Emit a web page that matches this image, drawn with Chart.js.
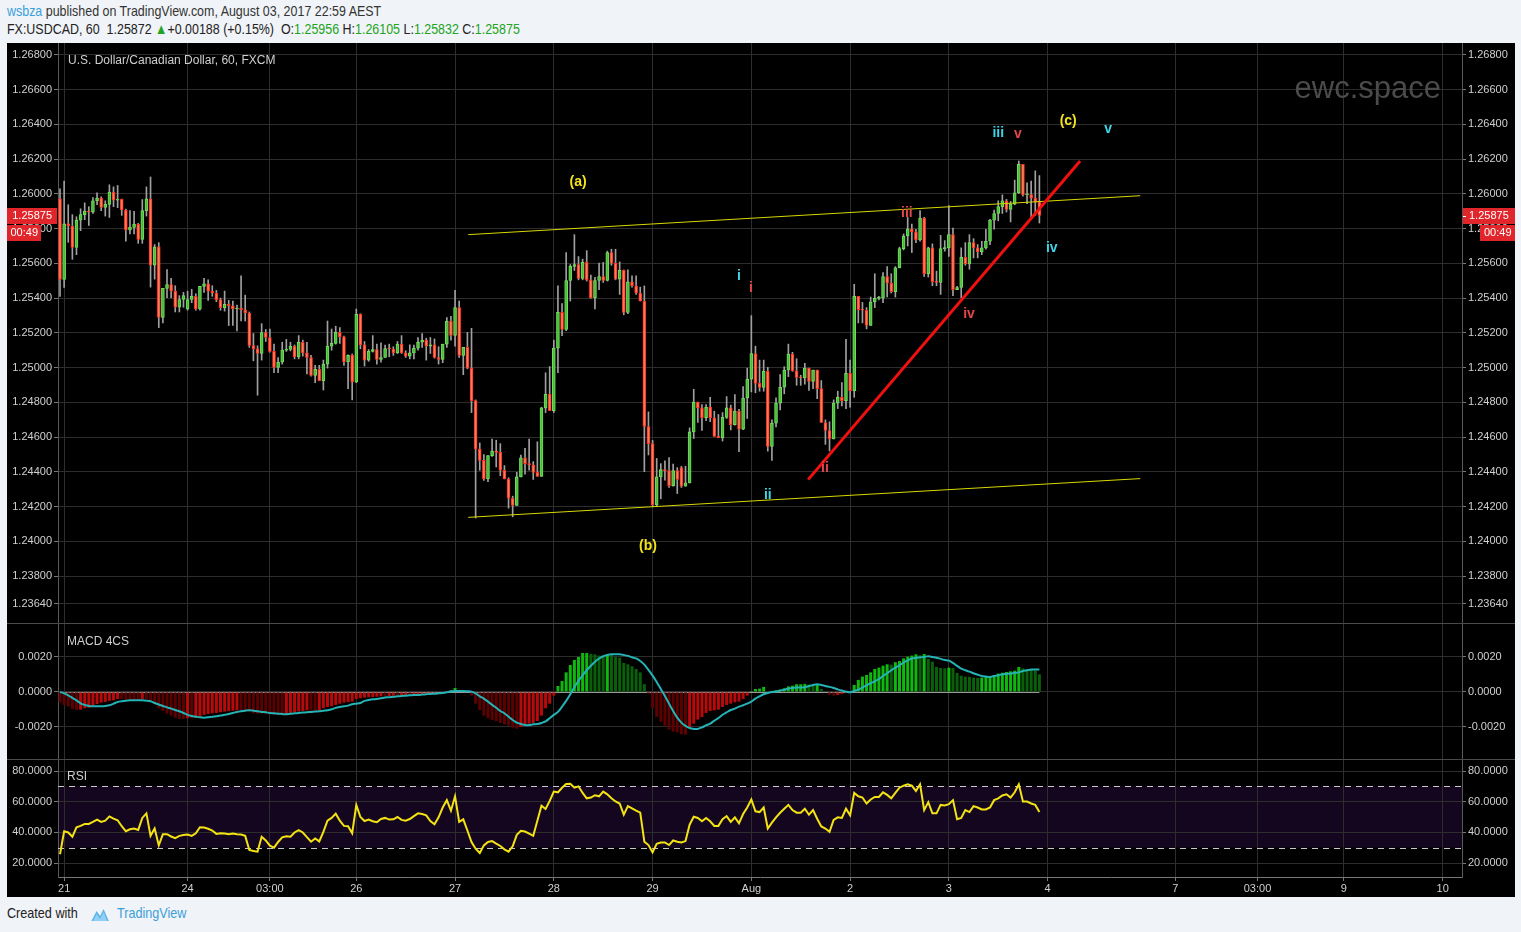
<!DOCTYPE html>
<html>
<head>
<meta charset="utf-8">
<script src="https://cdn.jsdelivr.net/npm/chart.js@4.4.0/dist/chart.umd.min.js"></script>
<style>
  body { margin:0; background:#f0f3f7; width:1521px; height:932px; overflow:hidden;
         font-family:"Liberation Sans",Arial,sans-serif; }
  .cond { transform:scaleX(0.83); transform-origin:0 0; }
  #hdr1 { position:absolute; left:7px; top:2px; font-size:15px; color:#333; white-space:nowrap; }
  #hdr1 .user { color:#3aa0db; }
  #hdr2 { position:absolute; left:7px; top:20px; font-size:15px; color:#222; white-space:nowrap; }
  #hdr2 .g { color:#22a422; }
  #panel { position:absolute; left:7px; top:43px; width:1508px; height:854px; background:#000; }
  #panel canvas { position:absolute; left:0; background:#000; }
  .sep { position:absolute; left:0; width:1508px; height:1px; background:#4a4a4a; }
  .lbl { position:absolute; font:12px "Liberation Sans",Arial,sans-serif; color:#cfcfcf; white-space:nowrap; }
  #wm { position:absolute; right:74px; top:27px; font:31px "Liberation Sans",Arial,sans-serif; color:#4b4b4b; }
  #foot { position:absolute; left:7px; top:905px; font-size:14.5px; color:#222; white-space:nowrap; transform:scaleX(0.87); }
  #foot .tv { color:#3d9fd8; }
  #foot svg { vertical-align:-4px; margin:0 7px 0 14px; }
</style>
</head>
<body>
<div id="hdr1" class="cond"><span class="user">wsbza</span> published on TradingView.com, August 03, 2017 22:59 AEST</div>
<div id="hdr2" class="cond">FX:USDCAD, 60&nbsp; 1.25872 <span class="g">&#9650;</span>+0.00188 (+0.15%)&nbsp; O:<span class="g">1.25956</span> H:<span class="g">1.26105</span> L:<span class="g">1.25832</span> C:<span class="g">1.25875</span></div>

<div id="panel">
  <canvas id="priceChart" width="1508" height="580" style="top:0"></canvas>
  <canvas id="macdChart" width="1508" height="136" style="top:580px"></canvas>
  <canvas id="rsiChart" width="1508" height="138" style="top:716px"></canvas>
  <div class="sep" style="top:580px"></div>
  <div class="sep" style="top:716px"></div>
  <div class="lbl" style="left:61px; top:10px">U.S. Dollar/Canadian Dollar, 60, FXCM</div>
  <div id="wm">ewc.space</div>
  <div class="lbl" style="left:60px; top:591px">MACD 4CS</div>
  <div class="lbl" style="left:60px; top:726px">RSI</div>
</div>

<div id="foot" style="transform-origin:0 0">Created with<svg width="24" height="16" viewBox="0 0 24 16"><path d="M2 15 L8 5 L12 10 L16 3 L22 15 Z" fill="#5db6ea"/><path d="M4 15 L8 8 L12 13 L16 6 L20 15 Z" fill="#8fd0f4"/></svg><span class="tv">TradingView</span></div>

<script>
// hourly candles, bar 0 = 20 Jul 23:00 AEST
const opens = [
  1.25971,1.25507,1.25828,1.25815,1.25692,1.25849,1.25880,1.25901,1.25895,1.25960,
  1.25975,1.25922,1.25939,1.26010,1.25964,1.25968,1.25907,1.25792,1.25807,1.25826,
  1.25738,1.25903,1.25971,1.25589,1.25695,1.25288,1.25456,1.25477,1.25440,1.25348,
  1.25392,1.25337,1.25392,1.25410,1.25337,1.25467,1.25482,1.25440,1.25429,1.25391,
  1.25345,1.25364,1.25356,1.25337,1.25343,1.25333,1.25314,1.25127,1.25108,1.25081,
  1.25202,1.25173,1.25093,1.25001,1.25032,1.25100,1.25104,1.25123,1.25062,1.25146,
  1.25085,1.25058,1.24955,1.24990,1.24924,1.25020,1.25123,1.25139,1.25203,1.25177,
  1.25032,1.25070,1.24917,1.25307,1.25131,1.25043,1.25093,1.25104,1.25047,1.25058,
  1.25110,1.25107,1.25085,1.25135,1.25085,1.25066,1.25085,1.25112,1.25146,1.25158,
  1.25123,1.25131,1.25058,1.25047,1.25135,1.25268,1.25185,1.25345,1.25070,1.25116,
  1.24997,1.24810,1.24531,1.24466,1.24359,1.24493,1.24520,1.24512,1.24409,1.24359,
  1.24248,1.24206,1.24371,1.24481,1.24447,1.24440,1.24397,1.24374,1.24768,1.24848,
  1.24752,1.25112,1.25318,1.25219,1.25501,1.25582,1.25593,1.25513,1.25605,1.25505,
  1.25402,1.25501,1.25524,1.25501,1.25662,1.25601,1.25509,1.25559,1.25318,1.25494,
  1.25471,1.25429,1.25383,1.24661,1.24562,1.24210,1.24371,1.24413,1.24407,1.24321,
  1.24407,1.24424,1.24317,1.24336,1.24630,1.24802,1.24768,1.24711,1.24772,1.24711,
  1.24604,1.24596,1.24713,1.24768,1.24672,1.24749,1.24646,1.24825,1.24934,1.25081,
  1.24909,1.24886,1.24978,1.24546,1.24680,1.24795,1.24887,1.24986,1.25077,1.24982,
  1.24944,1.24940,1.24997,1.24921,1.24986,1.24879,1.24684,1.24638,1.24589,1.24795,
  1.24829,1.24810,1.24967,1.24867,1.25410,1.25333,1.25330,1.25242,1.25379,1.25398,
  1.25400,1.25524,1.25486,1.25437,1.25574,1.25685,1.25757,1.25799,1.25781,1.25735,
  1.25861,1.25540,1.25689,1.25494,1.25490,1.25685,1.25689,1.25765,1.25448,1.25461,
  1.25635,1.25597,1.25719,1.25689,1.25665,1.25689,1.25727,1.25849,1.25887,1.25926,
  1.25960,1.25910,1.25941,1.26006,1.26170,1.25994,1.25996,1.25975,1.25956
];
const highs = [
  1.26029,1.26074,1.25937,1.25880,1.25868,1.25914,1.25948,1.25926,1.25979,1.26006,
  1.25983,1.25960,1.26052,1.26040,1.26048,1.25970,1.25912,1.25903,1.25899,1.25830,
  1.25967,1.26040,1.26097,1.25708,1.25719,1.25456,1.25564,1.25513,1.25471,1.25414,
  1.25433,1.25440,1.25450,1.25425,1.25467,1.25513,1.25505,1.25471,1.25444,1.25400,
  1.25440,1.25387,1.25383,1.25360,1.25528,1.25417,1.25320,1.25196,1.25125,1.25253,
  1.25219,1.25222,1.25135,1.25058,1.25146,1.25162,1.25146,1.25130,1.25184,1.25158,
  1.25146,1.25070,1.25013,1.25013,1.25043,1.25268,1.25222,1.25238,1.25230,1.25181,
  1.25074,1.25078,1.25337,1.25310,1.25150,1.25104,1.25184,1.25135,1.25143,1.25130,
  1.25135,1.25120,1.25150,1.25184,1.25097,1.25131,1.25130,1.25173,1.25196,1.25169,
  1.25173,1.25165,1.25120,1.25135,1.25288,1.25295,1.25444,1.25383,1.25116,1.25203,
  1.25226,1.24814,1.24566,1.24500,1.24493,1.24589,1.24582,1.24562,1.24436,1.24366,
  1.24260,1.24397,1.24497,1.24535,1.24589,1.24459,1.24573,1.24772,1.24970,1.25006,
  1.25158,1.25471,1.25368,1.25662,1.25593,1.25765,1.25639,1.25624,1.25673,1.25532,
  1.25520,1.25601,1.25605,1.25670,1.25681,1.25681,1.25608,1.25562,1.25562,1.25528,
  1.25528,1.25463,1.25470,1.24745,1.24581,1.24477,1.24447,1.24463,1.24482,1.24444,
  1.24424,1.24432,1.24432,1.24653,1.24875,1.24802,1.24787,1.24787,1.24829,1.24749,
  1.24730,1.24741,1.24833,1.24784,1.24845,1.24760,1.24890,1.24997,1.25299,1.25123,
  1.25043,1.25043,1.25001,1.24699,1.24826,1.24959,1.25005,1.25135,1.25088,1.25051,
  1.24956,1.25024,1.24997,1.24986,1.24986,1.24925,1.24699,1.24688,1.24814,1.24864,
  1.24913,1.25162,1.25043,1.25479,1.25410,1.25375,1.25345,1.25406,1.25540,1.25410,
  1.25547,1.25581,1.25540,1.25581,1.25693,1.25769,1.25864,1.25826,1.25796,1.25903,
  1.25865,1.25693,1.25712,1.25555,1.25761,1.25731,1.25933,1.25803,1.25467,1.25689,
  1.25719,1.25765,1.25742,1.25708,1.25727,1.25796,1.25853,1.25907,1.25960,1.25994,
  1.25968,1.25956,1.26079,1.26189,1.26170,1.26063,1.26074,1.26132,1.26105
];
const lows = [
  1.25410,1.25461,1.25721,1.25623,1.25650,1.25788,1.25851,1.25818,1.25887,1.25937,
  1.25903,1.25872,1.25864,1.25926,1.25920,1.25876,1.25727,1.25769,1.25769,1.25715,
  1.25715,1.25872,1.25463,1.25509,1.25230,1.25257,1.25402,1.25402,1.25320,1.25320,
  1.25347,1.25330,1.25373,1.25330,1.25330,1.25433,1.25387,1.25410,1.25379,1.25330,
  1.25325,1.25242,1.25242,1.25211,1.25268,1.25268,1.25116,1.25039,1.24841,1.25043,
  1.25150,1.25089,1.24970,1.24970,1.25020,1.25093,1.25096,1.25050,1.25050,1.25066,
  1.24963,1.24951,1.24913,1.24924,1.24871,1.24997,1.25100,1.25135,1.25139,1.25013,
  1.24878,1.24814,1.24913,1.25108,1.25009,1.25036,1.25089,1.25020,1.25031,1.25058,
  1.25062,1.25070,1.25081,1.25081,1.25058,1.25050,1.25050,1.25100,1.25116,1.25043,
  1.25081,1.25054,1.25020,1.25028,1.25116,1.25158,1.25123,1.25058,1.24959,1.24993,
  1.24741,1.24134,1.24409,1.24351,1.24344,1.24489,1.24428,1.24378,1.24359,1.24191,
  1.24141,1.24206,1.24371,1.24386,1.24409,1.24356,1.24374,1.24374,1.24741,1.24752,
  1.24741,1.24970,1.25184,1.25212,1.25383,1.25559,1.25505,1.25505,1.25498,1.25398,
  1.25337,1.25448,1.25490,1.25498,1.25589,1.25505,1.25421,1.25304,1.25310,1.25463,
  1.25421,1.25383,1.24401,1.24497,1.24199,1.24199,1.24245,1.24352,1.24310,1.24317,
  1.24275,1.24310,1.24317,1.24336,1.24592,1.24684,1.24638,1.24695,1.24689,1.24604,
  1.24596,1.24577,1.24707,1.24641,1.24669,1.24516,1.24642,1.24707,1.24860,1.24855,
  1.24864,1.24864,1.24519,1.24466,1.24659,1.24757,1.24849,1.24948,1.24978,1.24898,
  1.24898,1.24905,1.24868,1.24879,1.24821,1.24684,1.24558,1.24520,1.24589,1.24764,
  1.24779,1.24764,1.24772,1.24829,1.25257,1.25257,1.25223,1.25242,1.25345,1.25390,
  1.25373,1.25406,1.25429,1.25406,1.25574,1.25677,1.25700,1.25662,1.25719,1.25727,
  1.25525,1.25521,1.25471,1.25471,1.25421,1.25670,1.25640,1.25414,1.25448,1.25402,
  1.25589,1.25566,1.25631,1.25631,1.25650,1.25681,1.25708,1.25796,1.25845,1.25887,
  1.25895,1.25838,1.25937,1.26002,1.25987,1.25944,1.25857,1.25876,1.25832
];
const closes = [
  1.25507,1.25828,1.25815,1.25692,1.25849,1.25880,1.25901,1.25895,1.25960,1.25975,
  1.25922,1.25939,1.26010,1.25964,1.25968,1.25907,1.25792,1.25807,1.25826,1.25738,
  1.25903,1.25971,1.25589,1.25695,1.25288,1.25456,1.25477,1.25440,1.25348,1.25392,
  1.25415,1.25392,1.25410,1.25337,1.25467,1.25482,1.25440,1.25429,1.25391,1.25345,
  1.25364,1.25356,1.25337,1.25343,1.25333,1.25314,1.25127,1.25108,1.25081,1.25202,
  1.25173,1.25093,1.25001,1.25032,1.25100,1.25104,1.25123,1.25062,1.25146,1.25085,
  1.25058,1.24955,1.24990,1.24924,1.25020,1.25123,1.25139,1.25203,1.25177,1.25032,
  1.25070,1.24917,1.25307,1.25131,1.25043,1.25093,1.25104,1.25047,1.25058,1.25110,
  1.25107,1.25085,1.25135,1.25085,1.25066,1.25085,1.25112,1.25146,1.25158,1.25123,
  1.25131,1.25058,1.25047,1.25135,1.25268,1.25185,1.25345,1.25070,1.25116,1.24997,
  1.24810,1.24531,1.24466,1.24359,1.24493,1.24520,1.24512,1.24409,1.24359,1.24248,
  1.24206,1.24371,1.24481,1.24447,1.24440,1.24397,1.24374,1.24768,1.24848,1.24752,
  1.25112,1.25318,1.25219,1.25501,1.25582,1.25593,1.25513,1.25605,1.25505,1.25402,
  1.25501,1.25524,1.25501,1.25662,1.25601,1.25509,1.25559,1.25318,1.25494,1.25471,
  1.25429,1.25383,1.24661,1.24562,1.24210,1.24371,1.24413,1.24407,1.24321,1.24407,
  1.24356,1.24317,1.24336,1.24630,1.24802,1.24768,1.24711,1.24772,1.24711,1.24604,
  1.24596,1.24713,1.24768,1.24672,1.24749,1.24646,1.24825,1.24934,1.25081,1.24909,
  1.24886,1.24978,1.24546,1.24680,1.24795,1.24887,1.24986,1.25077,1.24982,1.24944,
  1.24940,1.24997,1.24921,1.24986,1.24879,1.24684,1.24638,1.24589,1.24795,1.24829,
  1.24810,1.24967,1.24867,1.25410,1.25333,1.25330,1.25242,1.25379,1.25398,1.25400,
  1.25524,1.25486,1.25437,1.25574,1.25685,1.25757,1.25799,1.25781,1.25735,1.25861,
  1.25540,1.25689,1.25494,1.25490,1.25685,1.25689,1.25765,1.25448,1.25461,1.25635,
  1.25597,1.25719,1.25689,1.25665,1.25689,1.25727,1.25849,1.25887,1.25926,1.25960,
  1.25910,1.25941,1.26006,1.26170,1.25994,1.25996,1.25975,1.25952,1.25875
];

// MACD 4C: histogram + signal line
const macdHist = [
  -0.00059,-0.00074,-0.00084,-0.00097,-0.00103,-0.00101,-0.00093,-0.00090,-0.00078,-0.00069,
  -0.00061,-0.00057,-0.00051,-0.00048,-0.00040,-0.00040,-0.00044,-0.00048,-0.00048,-0.00048,
  -0.00040,-0.00040,-0.00051,-0.00070,-0.00093,-0.00108,-0.00124,-0.00135,-0.00147,-0.00154,
  -0.00154,-0.00150,-0.00150,-0.00147,-0.00139,-0.00131,-0.00126,-0.00122,-0.00120,-0.00116,
  -0.00112,-0.00110,-0.00107,-0.00105,-0.00105,-0.00107,-0.00112,-0.00122,-0.00124,-0.00124,
  -0.00124,-0.00128,-0.00131,-0.00131,-0.00131,-0.00128,-0.00120,-0.00116,-0.00112,-0.00108,
  -0.00105,-0.00107,-0.00108,-0.00105,-0.00093,-0.00086,-0.00082,-0.00074,-0.00067,-0.00061,
  -0.00057,-0.00055,-0.00040,-0.00036,-0.00032,-0.00030,-0.00029,-0.00027,-0.00025,-0.00025,
  -0.00023,-0.00021,-0.00021,-0.00019,-0.00017,-0.00017,-0.00015,-0.00013,-0.00011,-0.00010,
  -0.00008,-0.00006,-0.00004,-0.00002,0.00004,0.00008,0.00023,0.00008,0.00008,0.00004,
  -0.00021,-0.00067,-0.00103,-0.00135,-0.00150,-0.00160,-0.00166,-0.00177,-0.00185,-0.00192,
  -0.00204,-0.00210,-0.00200,-0.00185,-0.00181,-0.00177,-0.00166,-0.00135,-0.00093,-0.00067,
  -0.00021,0.00034,0.00063,0.00112,0.00154,0.00183,0.00200,0.00223,0.00223,0.00217,
  0.00215,0.00208,0.00204,0.00215,0.00211,0.00200,0.00196,0.00166,0.00158,0.00147,
  0.00131,0.00112,0.00044,-0.00010,-0.00093,-0.00141,-0.00170,-0.00192,-0.00215,-0.00227,
  -0.00231,-0.00242,-0.00244,-0.00200,-0.00181,-0.00158,-0.00143,-0.00120,-0.00109,-0.00105,
  -0.00101,-0.00086,-0.00074,-0.00067,-0.00059,-0.00055,-0.00040,-0.00021,0.00006,0.00017,
  0.00019,0.00029,0.00004,0.00006,0.00010,0.00013,0.00021,0.00032,0.00036,0.00044,
  0.00044,0.00046,0.00042,0.00040,0.00044,0.00017,0.00002,-0.00017,-0.00021,-0.00017,
  -0.00011,-0.00006,-0.00002,0.00040,0.00069,0.00088,0.00097,0.00112,0.00131,0.00139,
  0.00150,0.00158,0.00156,0.00170,0.00177,0.00192,0.00202,0.00208,0.00215,0.00210,
  0.00217,0.00189,0.00173,0.00143,0.00137,0.00135,0.00139,0.00137,0.00109,0.00093,
  0.00088,0.00086,0.00082,0.00080,0.00082,0.00086,0.00090,0.00097,0.00105,0.00110,
  0.00114,0.00118,0.00122,0.00143,0.00135,0.00130,0.00126,0.00122,0.00101
];
const macdSignal = [
  0,-0.00008,-0.00019,-0.00034,-0.00048,-0.00065,-0.00074,-0.00080,-0.00082,-0.00082,
  -0.00082,-0.00080,-0.00076,-0.00067,-0.00057,-0.00053,-0.00050,-0.00048,-0.00048,-0.00048,
  -0.00048,-0.00050,-0.00053,-0.00063,-0.00072,-0.00080,-0.00088,-0.00095,-0.00103,-0.00110,
  -0.00120,-0.00131,-0.00137,-0.00141,-0.00145,-0.00147,-0.00145,-0.00141,-0.00139,-0.00135,
  -0.00130,-0.00126,-0.00120,-0.00114,-0.00110,-0.00107,-0.00105,-0.00107,-0.00110,-0.00114,
  -0.00116,-0.00120,-0.00122,-0.00124,-0.00126,-0.00128,-0.00124,-0.00122,-0.00120,-0.00118,
  -0.00116,-0.00114,-0.00112,-0.00110,-0.00107,-0.00105,-0.00099,-0.00091,-0.00086,-0.00082,
  -0.00078,-0.00070,-0.00067,-0.00063,-0.00051,-0.00046,-0.00042,-0.00040,-0.00036,-0.00032,
  -0.00030,-0.00027,-0.00025,-0.00023,-0.00021,-0.00019,-0.00017,-0.00017,-0.00015,-0.00013,
  -0.00011,-0.00010,-0.00008,-0.00006,-0.00002,0.00004,0.00006,0.00006,0.00006,0.00004,
  0.00002,-0.00008,-0.00025,-0.00038,-0.00055,-0.00074,-0.00090,-0.00109,-0.00122,-0.00141,
  -0.00160,-0.00175,-0.00183,-0.00189,-0.00189,-0.00185,-0.00183,-0.00177,-0.00168,-0.00150,
  -0.00131,-0.00114,-0.00084,-0.00051,-0.00013,0.00027,0.00063,0.00095,0.00124,0.00150,
  0.00173,0.00191,0.00204,0.00211,0.00215,0.00215,0.00215,0.00211,0.00206,0.00198,
  0.00192,0.00177,0.00156,0.00126,0.00093,0.00057,0.00017,-0.00023,-0.00067,-0.00109,
  -0.00147,-0.00175,-0.00194,-0.00206,-0.00211,-0.00211,-0.00202,-0.00191,-0.00181,-0.00164,
  -0.00149,-0.00130,-0.00116,-0.00103,-0.00095,-0.00084,-0.00076,-0.00067,-0.00055,-0.00038,
  -0.00025,-0.00013,-0.00006,0,0.00002,0.00008,0.00013,0.00019,0.00023,0.00025,
  0.00025,0.00027,0.00034,0.00040,0.00044,0.00040,0.00034,0.00029,0.00023,0.00015,
  0.00008,0.00002,-0.00002,0.00006,0.00013,0.00025,0.00038,0.00050,0.00061,0.00074,
  0.00091,0.00107,0.00124,0.00139,0.00152,0.00168,0.00181,0.00191,0.00196,0.00198,
  0.00200,0.00204,0.00200,0.00196,0.00189,0.00183,0.00179,0.00166,0.00149,0.00133,
  0.00124,0.00116,0.00107,0.00099,0.00091,0.00088,0.00086,0.00091,0.00095,0.00101,
  0.00103,0.00105,0.00109,0.00112,0.00120,0.00124,0.00128,0.00128,0.00128
];
const rsi = [
  25.7,40.7,39.9,37.1,43.3,44.2,45.5,45.5,46.8,48.3,
  46.8,47.6,50.4,48.9,47.9,44.0,40.7,42.0,42.5,41.6,
  49.4,52.4,37.7,42.5,31.5,38.8,38.8,37.3,36.2,37.7,
  38.2,38.6,37.7,39.4,43.3,43.1,42.3,41.2,39.0,39.4,
  39.2,38.8,39.2,38.8,38.6,37.7,28.5,27.8,27.4,37.1,
  34.7,31.3,30.0,33.7,36.7,37.5,37.1,39.9,41.4,39.9,
  36.9,33.9,36.0,34.1,40.3,47.6,49.4,52.2,47.6,44.2,
  44.0,39.4,57.9,50.0,47.4,48.3,47.2,46.6,48.7,49.4,
  48.3,48.5,50.0,48.1,47.6,48.7,50.6,52.4,51.9,51.1,
  47.4,45.3,49.8,56.2,61.0,54.1,63.5,46.8,48.5,41.2,
  33.7,29.3,26.5,31.5,33.7,34.3,32.6,31.1,28.9,27.4,
  30.9,38.4,41.0,40.5,39.2,37.7,47.6,57.3,55.2,60.5,
  66.6,66.1,69.1,71.5,71.7,69.1,70.0,65.7,62.2,62.7,
  64.2,63.5,66.6,64.8,62.2,60.1,58.8,51.5,57.1,55.6,
  54.1,52.8,33.9,31.7,26.9,32.5,33.4,33.4,31.7,34.7,
  33.9,33.4,34.3,45.0,50.2,49.4,47.2,49.4,47.2,44.2,
  44.2,48.5,50.6,46.8,49.8,45.9,51.9,56.2,61.4,53.7,
  53.2,56.2,42.5,46.3,49.8,52.8,55.4,57.9,54.5,52.8,
  52.8,55.4,51.5,54.5,48.9,43.8,42.5,40.3,48.1,49.8,
  49.4,55.4,51.1,65.7,63.5,62.7,58.8,61.4,63.1,63.1,
  66.1,64.4,62.2,65.7,69.1,70.4,71.3,70.4,67.0,71.3,
  54.5,59.7,52.4,52.4,57.9,57.5,58.4,61.0,48.5,49.4,
  54.5,53.2,57.1,56.2,54.9,54.9,56.2,61.0,62.2,64.0,
  64.8,62.7,66.1,71.3,60.1,60.1,58.8,57.9,53.2
];

// time axis (bar index -> label), future bars included
const tickBars = [1, 31, 51, 72, 96, 120, 144, 168, 192, 216, 240, 271, 291, 312, 336];
const tickLabels = ['21', '24', '03:00', '26', '27', '28', '29', 'Aug', '2', '3', '4', '7', '03:00', '9', '10'];
const priceTicks = [1.268, 1.266, 1.264, 1.262, 1.26, 1.258, 1.256, 1.254, 1.252, 1.25, 1.248, 1.246, 1.244, 1.242, 1.24, 1.238, 1.2364];
const macdTicks = [0.002, 0, -0.002];
const rsiTicks = [80, 60, 40, 20];
const rsiUpper = 70, rsiLower = 30;

// drawings: [bar, price]
const channelTop = [[99.2, 1.25765], [262.5, 1.25989]];
const channelBottom = [[99.2, 1.24138], [262.5, 1.24361]];
const trendLine = [[181.8, 1.24355], [247.9, 1.26189]];
const waveLabels = [
  { text: '(a)', bar: 125.9, price: 1.26069, color: '#f2e31c' },
  { text: '(b)', bar: 142.9, price: 1.23971, color: '#f2e31c' },
  { text: '(c)', bar: 245.0, price: 1.26418, color: '#f2e31c' },
  { text: 'i',   bar: 165.0, price: 1.25524, color: '#3fd5e6' },
  { text: 'i',   bar: 167.9, price: 1.25456, color: '#e4474b' },
  { text: 'ii',  bar: 172.0, price: 1.24264, color: '#3fd5e6' },
  { text: 'ii',  bar: 185.9, price: 1.24424, color: '#e4474b' },
  { text: 'iii', bar: 205.8, price: 1.25891, color: '#e4474b' },
  { text: 'iv',  bar: 220.9, price: 1.25307, color: '#e4474b' },
  { text: 'iii', bar: 228.0, price: 1.26350, color: '#3fd5e6' },
  { text: 'v',   bar: 232.8, price: 1.26344, color: '#e4474b' },
  { text: 'iv',  bar: 241.0, price: 1.25685, color: '#3fd5e6' },
  { text: 'v',   bar: 254.7, price: 1.26372, color: '#3fd5e6' }
];
const countdown = '00:49';

const X_MIN = -0.49, X_MAX = 340.7;
const GRID = '#2d2d2d';
const AXIS_FONT = { family: 'Liberation Sans, Arial, sans-serif', size: 11 };

function xAxis(labels) {
  return {
    type: 'linear', min: X_MIN, max: X_MAX, offset: false,
    afterBuildTicks: s => { s.ticks = tickBars.map(v => ({ value: v })); },
    afterFit: s => { s.height = labels ? 20 : 0; s.paddingLeft = 0; s.paddingRight = 0; },
    grid: { color: GRID, offset: false, drawTicks: labels, tickLength: 4, tickColor: '#777' },
    border: { display: labels, color: '#777' },
    ticks: { display: labels, autoSkip: false, maxRotation: 0, color: '#d0d0d0', font: AXIS_FONT, padding: 1,
             callback: (v, i) => tickLabels[i] }
  };
}

function yAxis(pos, min, max, ticks, digits) {
  return {
    type: 'linear', position: pos, min: min, max: max,
    afterBuildTicks: s => { s.ticks = ticks.map(v => ({ value: v })); },
    // fixed axis width, no extra room for edge labels
    afterFit: s => { s.width = pos === 'left' ? 51 : 53; s.paddingTop = 0; s.paddingBottom = 0; },
    grid: { color: GRID, tickColor: '#777', tickLength: 4 },
    border: { color: '#5a5a5a' },
    ticks: { color: '#d0d0d0', font: AXIS_FONT, padding: 2, callback: v => v.toFixed(digits) }
  };
}

function baseOptions(scales) {
  return {
    responsive: false, animation: false, devicePixelRatio: 1,
    layout: { padding: 0 },
    events: [],
    plugins: { legend: { display: false }, tooltip: { enabled: false } },
    scales: scales
  };
}

const idx = closes.map((c, i) => i);

// price pane
const upFill = '#4fb83f', upLine = '#6ee05a', dnFill = '#f4805e', dnLine = '#ff2b1c';
const wickData = idx.map(i => ({ x: i, y: [lows[i], highs[i]] }));
const bodyData = idx.map(i => ({ x: i, y: [opens[i], closes[i]] }));
const isUp = idx.map(i => closes[i] >= opens[i]);
const toXY = pts => pts.map(p => ({ x: p[0], y: p[1] }));

const priceLabels = {
  id: 'priceLabels',
  afterDatasetsDraw(chart) {
    const { ctx, scales: { x, yr } } = chart;
    ctx.save();
    ctx.font = 'bold 14px Liberation Sans, Arial, sans-serif';
    ctx.textAlign = 'center';
    ctx.textBaseline = 'middle';
    waveLabels.forEach(w => {
      ctx.fillStyle = w.color;
      ctx.fillText(w.text, x.getPixelForValue(w.bar), yr.getPixelForValue(w.price));
    });
    ctx.restore();
  },
  afterDraw(chart) {
    const { ctx, chartArea: a, scales: { yr }, width } = chart;
    const last = closes[closes.length - 1];
    const y = Math.round(yr.getPixelForValue(last));
    ctx.save();
    ctx.fillStyle = '#e0262a';
    ctx.fillRect(a.right + 1, y - 8, width - a.right - 1, 16);
    ctx.fillRect(a.right + 18, y + 9, width - a.right - 18, 16);
    ctx.fillRect(0, y - 8, a.left - 1, 16);
    ctx.fillRect(0, y + 9, 34, 16);
    ctx.fillStyle = '#fff';
    ctx.font = '11px Liberation Sans, Arial, sans-serif';
    ctx.textBaseline = 'middle';
    ctx.textAlign = 'left';
    ctx.fillText(last.toFixed(5), a.right + 7, y);
    ctx.fillText(countdown, a.right + 22, y + 17);
    ctx.fillRect(a.right + 1, y, 3, 1);
    ctx.textAlign = 'right';
    ctx.fillText(last.toFixed(5), a.left - 6, y);
    ctx.fillText(countdown, 31, y + 17);
    ctx.restore();
  }
};

new Chart(document.getElementById('priceChart').getContext('2d'), {
  type: 'bar',
  data: {
    datasets: [
      { data: wickData, yAxisID: 'yr', grouped: false, barThickness: 1, backgroundColor: '#a0a0a0', order: 5 },
      { data: bodyData, yAxisID: 'yr', grouped: false, barThickness: 3, minBarLength: 1, borderSkipped: false,
        backgroundColor: isUp.map(u => u ? upFill : dnFill),
        borderColor: isUp.map(u => u ? upLine : dnLine), borderWidth: 1, order: 4 },
      { type: 'line', data: toXY(channelTop), yAxisID: 'yr', borderColor: '#d8d800', borderWidth: 1, pointRadius: 0, order: 2 },
      { type: 'line', data: toXY(channelBottom), yAxisID: 'yr', borderColor: '#d8d800', borderWidth: 1, pointRadius: 0, order: 2 },
      { type: 'line', data: toXY(trendLine), yAxisID: 'yr', borderColor: '#f01010', borderWidth: 3, pointRadius: 0, order: 1 }
    ]
  },
  options: baseOptions({
    x: xAxis(false),
    yl: yAxis('left', 1.23530, 1.26868, priceTicks, 5),
    yr: yAxis('right', 1.23530, 1.26868, priceTicks, 5)
  }),
  plugins: [priceLabels]
});

// MACD pane
const histColors = macdHist.map((v, i) => {
  const prev = i > 0 ? macdHist[i - 1] : v;
  if (v >= 0) return v >= prev ? '#0fb80f' : '#0a600a';
  return v > prev ? '#b80a0a' : '#5c0000';
});
const zeroLine = {
  id: 'zeroLine',
  beforeDatasetsDraw(chart) {
    const { ctx, scales: { x, yr } } = chart;
    const y = Math.round(yr.getPixelForValue(0)) + 0.5;
    ctx.save();
    ctx.strokeStyle = '#9a9a9a';
    ctx.lineWidth = 1;
    ctx.beginPath();
    ctx.moveTo(x.getPixelForValue(0), y);
    ctx.lineTo(x.getPixelForValue(closes.length - 1), y);
    ctx.stroke();
    ctx.restore();
  }
};

new Chart(document.getElementById('macdChart').getContext('2d'), {
  type: 'bar',
  data: {
    datasets: [
      { data: idx.map(i => ({ x: i, y: macdHist[i] })), yAxisID: 'yr', grouped: false, barThickness: 3,
        backgroundColor: histColors, inflateAmount: 0, order: 2 },
      { type: 'line', data: idx.map(i => ({ x: i, y: macdSignal[i] })), yAxisID: 'yr',
        borderColor: '#25b3b6', borderWidth: 2, pointRadius: 0, tension: 0.3, order: 1 }
    ]
  },
  options: baseOptions({
    x: xAxis(false),
    yl: yAxis('left', -0.00383, 0.00394, macdTicks, 4),
    yr: yAxis('right', -0.00383, 0.00394, macdTicks, 4)
  }),
  plugins: [zeroLine]
});

// RSI pane
const rsiBand = {
  id: 'rsiBand',
  beforeDraw(chart) {
    const { ctx, chartArea: a, scales: { yr } } = chart;
    const top = yr.getPixelForValue(rsiUpper), bot = yr.getPixelForValue(rsiLower);
    ctx.save();
    ctx.fillStyle = '#14061f';
    ctx.fillRect(a.left, top, a.right - a.left, bot - top);
    ctx.restore();
  },
  beforeDatasetsDraw(chart) {
    const { ctx, chartArea: a, scales: { yr } } = chart;
    ctx.save();
    ctx.strokeStyle = '#c8c8c8';
    ctx.lineWidth = 1;
    ctx.setLineDash([6, 5]);
    [rsiUpper, rsiLower].forEach(v => {
      const y = Math.round(yr.getPixelForValue(v)) + 0.5;
      ctx.beginPath();
      ctx.moveTo(a.left, y);
      ctx.lineTo(a.right, y);
      ctx.stroke();
    });
    ctx.restore();
  }
};

new Chart(document.getElementById('rsiChart').getContext('2d'), {
  type: 'line',
  data: {
    datasets: [
      { data: idx.map(i => ({ x: i, y: rsi[i] })), yAxisID: 'yr', borderColor: '#f3e314', borderWidth: 2,
        pointRadius: 0, tension: 0 }
    ]
  },
  options: baseOptions({
    x: xAxis(true),
    yl: yAxis('left', 10.87, 87.83, rsiTicks, 4),
    yr: yAxis('right', 10.87, 87.83, rsiTicks, 4)
  }),
  plugins: [rsiBand]
});
</script>
</body>
</html>
